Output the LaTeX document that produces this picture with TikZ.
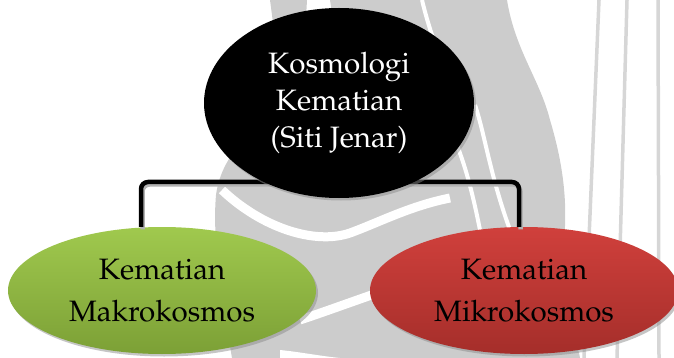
\documentclass[tikz,border=0pt]{standalone}
\IfFileExists{palatino.sty}{%
  \usepackage[T1]{fontenc}\usepackage{palatino}\newcommand\mysz{29.5}}{%
  \usepackage{fontspec}\setmainfont{Liberation Serif}\newcommand\mysz{32}}
\usetikzlibrary{shapes.geometric,shadows,calc}
\definecolor{wmgray}{RGB}{204,204,204}
\definecolor{wmline}{RGB}{214,214,214}
\definecolor{gtop}{RGB}{160,201,78}
\definecolor{gbot}{RGB}{124,160,54}
\definecolor{rtop}{RGB}{208,64,60}
\definecolor{rbot}{RGB}{165,46,42}
\tikzset{
  oval/.style={ellipse, inner sep=0pt, minimum width=308pt, minimum height=127pt,
    align=center, font=\fontsize{\mysz}{41.5}\selectfont,
    drop shadow={shadow xshift=2pt, shadow yshift=-2.5pt, fill=black!45}},
  topoval/.style={ellipse, inner sep=0pt, minimum width=270pt, minimum height=190pt,
    align=center, fill=black, text=white, font=\fontsize{\mysz}{37}\selectfont,
    drop shadow={shadow xshift=2pt, shadow yshift=-2.5pt, fill=black!45}},
  conn/.style={line width=4.5pt, rounded corners=7pt},
  connshadow/.style={line width=4.5pt, rounded corners=7pt, draw=black!30},
  wmband/.style={fill=wmgray},
  wmwhite/.style={draw=white, line width=9pt},
  wmthin/.style={draw=white, line width=4pt},
  wmvert/.style={draw=wmline, line width=3.5pt}
}
\begin{document}
\begin{tikzpicture}[x=1pt,y=-1pt]
\useasboundingbox (0,0) rectangle (674,358);
\clip (0,0) rectangle (674,358);
% ---- watermark ----
\fill[wmband] (270,0) -- (307,0) .. controls (305,40) and (300,70) .. (295,100) -- (280,100) .. controls (278,60) and (274,30) .. (270,0) -- cycle;
\fill[wmband] (330,0) -- (507,0) .. controls (515,50) and (540,80) .. (550,120)
  .. controls (565,170) and (568,210) .. (563,250) .. controls (560,300) and (575,330) .. (580,358)
  -- (232,358) .. controls (222,300) and (212,240) .. (216,195)
  .. controls (222,150) and (260,120) .. (310,90) .. controls (330,60) and (335,30) .. (330,0) -- cycle;
\draw[wmthin] (422,0) .. controls (428,25) and (435,45) .. (445,70);
\draw[wmwhite] (222,190) .. controls (262,228) and (315,245) .. (350,233) .. controls (380,222) and (410,206) .. (450,198);
\draw[wmwhite] (300,320) .. controls (330,310) and (370,295) .. (410,282);
\draw[wmthin] (475,105) .. controls (485,135) and (490,175) .. (510,230);
\draw[wmthin] (455,140) .. controls (465,165) and (472,190) .. (480,230);
\fill[white] (280,350) .. controls (300,352) and (320,356) .. (340,358) -- (280,358) -- cycle;
\draw[wmvert] (599,0) -- (584,358);
\draw[wmvert] (627,0) -- (617,358);
\draw[wmvert] (658,0) -- (659,358);
% ---- nodes ----
\node[oval, top color=gtop, bottom color=gbot] (green) at (162,290.5) {Kematian\\Makrokosmos};
\node[oval, top color=rtop, bottom color=rbot] (red) at (524,290.5) {Kematian\\Mikrokosmos};
\coordinate (gdrop) at ([xshift=-21pt]green.north);
\coordinate (rdrop) at ([xshift=-5pt]red.north);
\coordinate (hub) at (339,182);
\draw[connshadow] ([shift={(1.5,2.5)}]gdrop) |- ([shift={(1.5,2.5)}]hub) -| ([shift={(1.5,2.5)}]rdrop);
\draw[conn] (gdrop) |- (hub) -| (rdrop);
\node[topoval] (top) at (339,103) {Kosmologi\\Kematian\\(Siti Jenar)};
\end{tikzpicture}
\end{document}
